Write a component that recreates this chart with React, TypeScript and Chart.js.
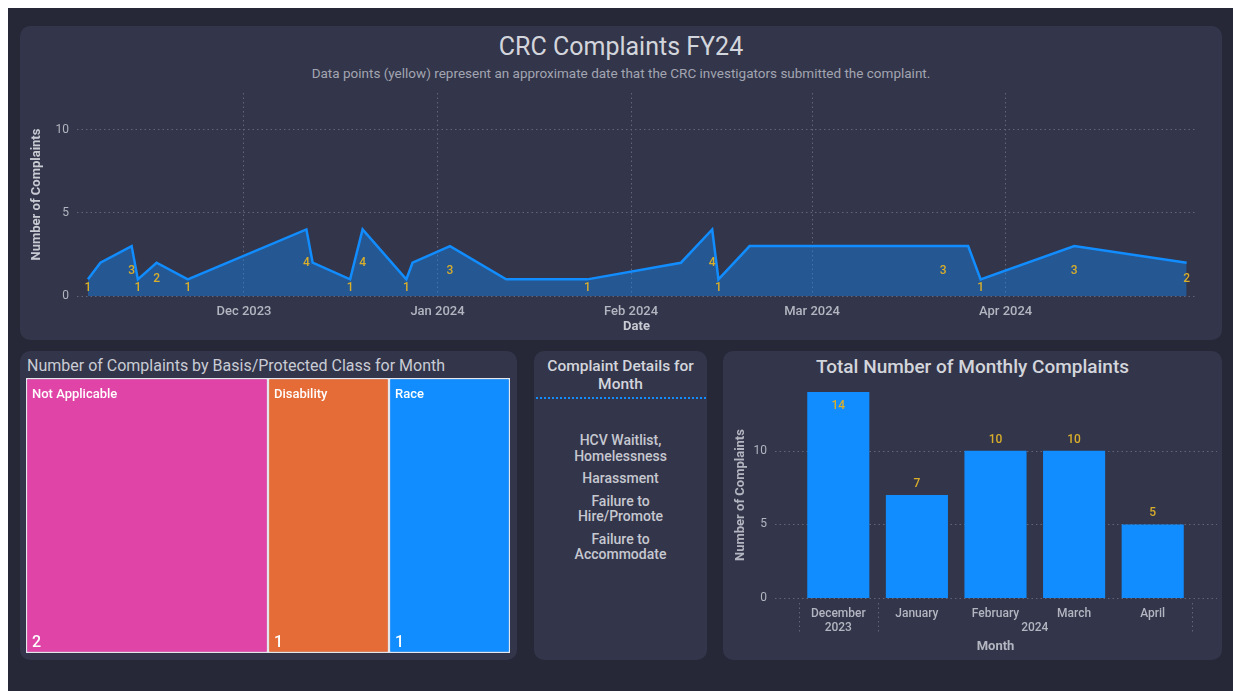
import React, { useEffect, useRef } from 'react';
import { Chart, registerables } from 'chart.js';

Chart.register(...registerables);
Chart.defaults.font.family = 'Roboto, "Noto Sans", sans-serif';

// ---------- Data: line chart (complaints by submission date) ----------
const dates = [
  '2023-11-06', '2023-11-08', '2023-11-13', '2023-11-14', '2023-11-17', '2023-11-22',
  '2023-12-11', '2023-12-12', '2023-12-18', '2023-12-20', '2023-12-27', '2023-12-28',
  '2024-01-03', '2024-01-12', '2024-01-25',
  '2024-02-09', '2024-02-14', '2024-02-15', '2024-02-20',
  '2024-03-22', '2024-03-26', '2024-03-28',
  '2024-04-12', '2024-04-30',
];
const complaints = [1, 2, 3, 1, 2, 1, 4, 2, 1, 4, 1, 2, 3, 1, 1, 2, 4, 1, 3, 3, 3, 1, 3, 2];
const labelShown = [1, 0, 1, 1, 1, 1, 1, 0, 1, 1, 1, 0, 1, 0, 1, 0, 1, 1, 0, 1, 0, 1, 1, 1];
const monthTicks = ['2023-12-01', '2024-01-01', '2024-02-01', '2024-03-01', '2024-04-01'];
const monthTickLabels = ['Dec 2023', 'Jan 2024', 'Feb 2024', 'Mar 2024', 'Apr 2024'];
const axisStart = '2023-11-04T06:00:00Z';
const axisEnd = '2024-05-01T12:00:00Z';

// ---------- Data: treemap (basis / protected class) ----------
const basisClasses = ['Not Applicable', 'Disability', 'Race'];
const basisCounts = [2, 1, 1];
const basisColors = ['#E044A7', '#E66C37', '#118DFF'];

// ---------- Data: complaint details ----------
const detailItems = ['HCV Waitlist, Homelessness', 'Harassment', 'Failure to Hire/Promote', 'Failure to Accommodate'];

// ---------- Data: monthly totals ----------
const months = ['December', 'January', 'February', 'March', 'April'];
const monthYears = ['2023', '2024', '2024', '2024', '2024'];
const monthlyTotals = [14, 7, 10, 10, 5];

// ---------- Styles ----------
const OUTER_BG = '#262838';
const PANEL_BG = '#33354A';
const TITLE_COLOR = '#D3D5DC';
const SUB_COLOR = '#A2A5B1';
const AXIS_TEXT = '#B3B6C0';
const GRID = '#63667B';
const LABEL_COLOR = '#D9AE2B';
const BLUE = '#118DFF';
const FONT = 'Roboto, "Noto Sans", sans-serif';
const BAR_TICK_PAD = 9;

const toDay = (s: string) => Date.parse(s.length === 10 ? s + 'T00:00:00Z' : s) / 86400000;

function ChartCanvas({ width, height, config }: { width: number; height: number; config: any }) {
  const ref = useRef<HTMLCanvasElement | null>(null);
  useEffect(() => {
    if (!ref.current) return;
    const chart = new Chart(ref.current, config);
    return () => chart.destroy();
  }, []);
  return <canvas ref={ref} width={width} height={height} style={{ display: 'block', width, height }} />;
}

const fitY = (w: number) => (s: any) => {
  s.width = w;
  s.paddingTop = 0;
  s.paddingBottom = 0;
};
const fitX = (h: number) => (s: any) => {
  s.height = h;
  s.paddingLeft = 0;
  s.paddingRight = 0;
};

const lineConfig = {
  type: 'line',
  data: {
    datasets: [
      {
        data: dates.map((d, i) => ({ x: toDay(d), y: complaints[i] })),
        borderColor: BLUE,
        borderWidth: 2.5,
        backgroundColor: 'rgba(17,141,255,0.4)',
        fill: 'origin',
        pointRadius: 0,
        tension: 0,
      },
    ],
  },
  options: {
    animation: false,
    responsive: false,
    maintainAspectRatio: false,
    layout: { padding: { left: 5, top: 8, right: 26, bottom: 0 } },
    plugins: { legend: { display: false }, tooltip: { enabled: false } },
    scales: {
      x: {
        type: 'linear',
        min: toDay(axisStart),
        max: toDay(axisEnd),
        afterBuildTicks: (s: any) => {
          s.ticks = monthTicks.map((m) => ({ value: toDay(m) }));
        },
        afterFit: fitX(44),
        ticks: {
          callback: (_v: any, i: number) => monthTickLabels[i],
          color: AXIS_TEXT,
          font: { size: 13, weight: '500' },
          padding: 8,
          maxRotation: 0,
          autoSkip: false,
        },
        grid: { color: GRID, lineWidth: 1, drawTicks: false },
        border: { display: false, dash: [1.5, 3] },
        title: {
          display: true,
          text: 'Date',
          color: '#C9CBD3',
          font: { size: 13, weight: 'bold' },
          padding: { top: 0, bottom: 5 },
        },
      },
      y: {
        min: 0,
        max: 12.2,
        afterFit: fitY(52),
        ticks: { stepSize: 5, includeBounds: false, padding: 8, color: AXIS_TEXT, font: { size: 12 } },
        grid: { color: GRID, lineWidth: 1, drawTicks: false },
        border: { display: false, dash: [1.5, 3] },
        title: {
          display: true,
          text: 'Number of Complaints',
          color: '#C9CBD3',
          font: { size: 13, weight: 'bold' },
          padding: { top: 4, bottom: 11 },
        },
      },
    },
  },
  plugins: [
    {
      id: 'pointLabels',
      afterDatasetsDraw(chart: any) {
        const { ctx } = chart;
        const xs = chart.scales.x;
        const ys = chart.scales.y;
        ctx.save();
        ctx.font = `500 12px ${FONT}`;
        ctx.fillStyle = LABEL_COLOR;
        ctx.textAlign = 'center';
        ctx.textBaseline = 'middle';
        dates.forEach((d, i) => {
          if (!labelShown[i]) return;
          ctx.fillText(String(complaints[i]), xs.getPixelForValue(toDay(d)), ys.getPixelForValue(complaints[i] / 2));
        });
        ctx.restore();
      },
    },
  ],
};

const basisTotal = basisCounts.reduce((a, b) => a + b, 0);
const treemapConfig = {
  type: 'bar',
  data: {
    labels: ['Month'],
    datasets: basisClasses.map((c, i) => ({
      label: c,
      data: [basisCounts[i]],
      backgroundColor: basisColors[i],
      borderColor: '#E4E6EE',
      borderWidth: 1.5,
      borderSkipped: false,
      barPercentage: 1,
      categoryPercentage: 1,
    })),
  },
  options: {
    indexAxis: 'y',
    animation: false,
    responsive: false,
    layout: { padding: 0 },
    plugins: { legend: { display: false }, tooltip: { enabled: false } },
    scales: {
      x: { stacked: true, display: false, min: 0, max: basisTotal },
      y: { stacked: true, display: false },
    },
  },
  plugins: [
    {
      id: 'treeLabels',
      afterDatasetsDraw(chart: any) {
        const { ctx } = chart;
        ctx.save();
        ctx.fillStyle = '#FFFFFF';
        ctx.textAlign = 'left';
        ctx.textBaseline = 'middle';
        basisClasses.forEach((c, i) => {
          const el = chart.getDatasetMeta(i).data[0];
          const left = el.base;
          const top = el.y - el.height / 2;
          const bottom = el.y + el.height / 2;
          ctx.font = `500 13px ${FONT}`;
          ctx.fillText(c, left + 6, top + 17);
          ctx.font = `500 16px ${FONT}`;
          ctx.fillText(String(basisCounts[i]), left + 6, bottom - 10);
        });
        ctx.restore();
      },
    },
  ],
};

const barConfig = {
  type: 'bar',
  data: {
    labels: months,
    datasets: [
      {
        data: monthlyTotals,
        backgroundColor: BLUE,
        barPercentage: 0.79,
        categoryPercentage: 1,
      },
    ],
  },
  options: {
    animation: false,
    responsive: false,
    layout: { padding: { left: 6, top: 12, right: 30, bottom: 0 } },
    plugins: { legend: { display: false }, tooltip: { enabled: false } },
    scales: {
      x: {
        afterFit: fitX(60),
        grid: { display: false, drawTicks: false },
        border: { display: false },
        ticks: {
          color: AXIS_TEXT,
          font: { size: 12, weight: '500' },
          padding: BAR_TICK_PAD,
          maxRotation: 0,
          autoSkip: false,
        },
        title: {
          display: true,
          text: 'Month',
          color: AXIS_TEXT,
          font: { size: 13, weight: 'bold' },
          padding: { top: 19, bottom: 3 },
        },
      },
      y: {
        min: 0,
        max: 14,
        afterFit: fitY(70),
        grid: { display: false, drawTicks: false },
        border: { display: false },
        ticks: { stepSize: 5, includeBounds: false, padding: 32, color: AXIS_TEXT, font: { size: 12 } },
        title: {
          display: true,
          text: 'Number of Complaints',
          color: AXIS_TEXT,
          font: { size: 13, weight: 'bold' },
          padding: { top: 4, bottom: 6 },
        },
      },
    },
  },
  plugins: [
    {
      id: 'extendedGrid',
      beforeDatasetsDraw(chart: any) {
        const { ctx, chartArea } = chart;
        const ys = chart.scales.y;
        ctx.save();
        ctx.strokeStyle = GRID;
        ctx.lineWidth = 1;
        ctx.setLineDash([1.5, 3]);
        ys.ticks.forEach((t: any) => {
          const y = Math.round(ys.getPixelForValue(t.value)) + 0.5;
          ctx.beginPath();
          ctx.moveTo(chartArea.left - 24, y);
          ctx.lineTo(chartArea.right + 25, y);
          ctx.stroke();
        });
        ctx.restore();
      },
    },
    {
      id: 'barExtras',
      afterDatasetsDraw(chart: any) {
        const { ctx, chartArea } = chart;
        const xs = chart.scales.x;
        const meta = chart.getDatasetMeta(0);
        const step = xs.getPixelForValue(1) - xs.getPixelForValue(0);
        ctx.save();
        ctx.font = `500 12px ${FONT}`;
        ctx.fillStyle = LABEL_COLOR;
        ctx.textAlign = 'center';
        ctx.textBaseline = 'middle';
        meta.data.forEach((el: any, i: number) => {
          let y = el.y - 11;
          if (y - 7 < chartArea.top) y = el.y + 14;
          ctx.fillText(String(monthlyTotals[i]), el.x, y);
        });
        ctx.fillStyle = AXIS_TEXT;
        const yearY = chartArea.bottom + BAR_TICK_PAD + 14 + 7;
        const bounds: number[] = [xs.getPixelForValue(0) - step / 2];
        let start = 0;
        for (let i = 1; i <= months.length; i++) {
          if (i === months.length || monthYears[i] !== monthYears[start]) {
            const mid = (xs.getPixelForValue(start) + xs.getPixelForValue(i - 1)) / 2;
            ctx.fillText(monthYears[start], mid, yearY);
            bounds.push(xs.getPixelForValue(i - 1) + step / 2);
            start = i;
          }
        }
        ctx.strokeStyle = GRID;
        ctx.lineWidth = 1;
        ctx.setLineDash([1.5, 3]);
        bounds.forEach((x) => {
          const px = Math.round(x) + 0.5;
          ctx.beginPath();
          ctx.moveTo(px, chartArea.bottom + 5);
          ctx.lineTo(px, chartArea.bottom + 35);
          ctx.stroke();
        });
        ctx.restore();
      },
    },
  ],
};

const panel = (left: number, top: number, width: number, height: number): React.CSSProperties => ({
  position: 'absolute',
  left,
  top,
  width,
  height,
  background: PANEL_BG,
  borderRadius: 10,
  overflow: 'hidden',
});

export default function App() {
  return (
    <div
      style={{
        position: 'fixed',
        left: 8,
        top: 8,
        width: 1225,
        height: 683,
        background: OUTER_BG,
        fontFamily: FONT,
        overflow: 'hidden',
      }}
    >
      {/* Top panel */}
      <div style={panel(12, 18, 1202, 314)}>
        <div
          style={{
            position: 'absolute',
            left: 0,
            right: 0,
            top: 6,
            textAlign: 'center',
            fontSize: 25,
            lineHeight: '30px',
            color: TITLE_COLOR,
          }}
        >
          CRC Complaints FY24
        </div>
        <div
          style={{
            position: 'absolute',
            left: 0,
            right: 0,
            top: 39,
            textAlign: 'center',
            fontSize: 13.5,
            lineHeight: '16px',
            color: SUB_COLOR,
          }}
        >
          Data points (yellow) represent an approximate date that the CRC investigators submitted the complaint.
        </div>
        <div style={{ position: 'absolute', left: 0, top: 59 }}>
          <ChartCanvas width={1202} height={255} config={lineConfig} />
        </div>
      </div>

      {/* Treemap panel */}
      <div style={panel(12, 343, 497, 309)}>
        <div
          style={{
            position: 'absolute',
            left: 7,
            top: 5,
            fontSize: 16,
            lineHeight: '20px',
            color: '#C9CCD4',
            whiteSpace: 'nowrap',
          }}
        >
          Number of Complaints by Basis/Protected Class for Month
        </div>
        <div style={{ position: 'absolute', left: 6, top: 27 }}>
          <ChartCanvas width={484} height={275} config={treemapConfig} />
        </div>
      </div>

      {/* Details panel */}
      <div style={panel(526, 343, 173, 309)}>
        <div
          style={{
            position: 'absolute',
            left: 2,
            right: 2,
            top: 6,
            textAlign: 'center',
            fontSize: 15.5,
            fontWeight: 500,
            lineHeight: '18px',
            color: TITLE_COLOR,
          }}
        >
          Complaint Details for Month
        </div>
        <div
          style={{
            position: 'absolute',
            left: 2,
            width: 170,
            top: 46,
            borderTop: `2px dotted ${BLUE}`,
          }}
        />
        <div
          style={{
            position: 'absolute',
            left: 0,
            right: 0,
            top: 82,
            display: 'flex',
            flexDirection: 'column',
            alignItems: 'center',
            gap: 7,
          }}
        >
          {detailItems.map((t) => (
            <div
              key={t}
              style={{
                width: 112,
                textAlign: 'center',
                fontSize: 14,
                fontWeight: 500,
                lineHeight: '15.5px',
                color: '#C6C8D0',
              }}
            >
              {t}
            </div>
          ))}
        </div>
      </div>

      {/* Monthly totals panel */}
      <div style={panel(715, 343, 499, 309)}>
        <div
          style={{
            position: 'absolute',
            left: 0,
            right: 0,
            top: 4,
            textAlign: 'center',
            fontSize: 19,
            fontWeight: 500,
            lineHeight: '24px',
            color: TITLE_COLOR,
          }}
        >
          Total Number of Monthly Complaints
        </div>
        <div style={{ position: 'absolute', left: 0, top: 29 }}>
          <ChartCanvas width={499} height={278} config={barConfig} />
        </div>
      </div>
    </div>
  );
}
